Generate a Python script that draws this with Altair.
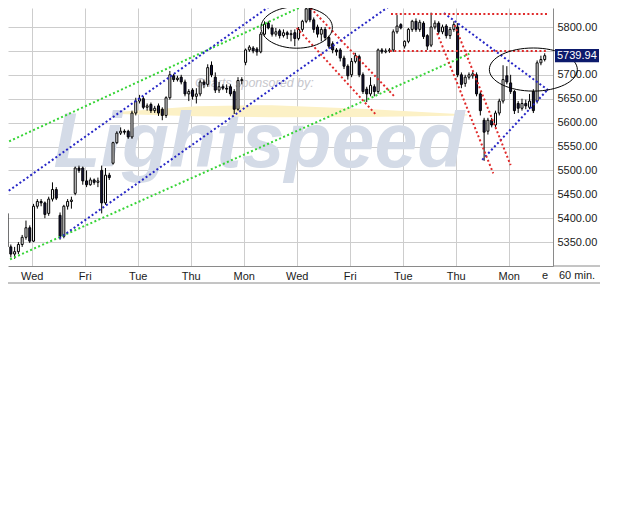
import altair as alt
import pandas as pd

FONT = "Liberation Sans"

# ---- 60-minute candles (bar index order) ----
opens = [5410,5340,5325,5330,5345,5360,5380,5352,5425,5435,
         5432,5410,5440,5460,5406,5362,5425,5435,5452,5505,
         5505,5478,5470,5480,5475,5500,5432,5490,5515,5558,
         5578,5582,5582,5570,5620,5645,5650,5632,5638,5625,
         5635,5628,5615,5652,5698,5690,5695,5685,5660,5668,
         5655,5660,5685,5680,5720,5695,5668,5675,5672,5675,
         5665,5628,5688,5726,5752,5756,5754,5748,5785,5808,
         5798,5785,5792,5782,5788,5784,5788,5776,5795,5812,
         5838,5815,5800,5785,5795,5778,5765,5752,5752,5735,
         5718,5700,5728,5738,5700,5670,5660,5675,5665,5752,
         5748,5750,5752,5790,5805,5760,5770,5795,5812,5795,
         5808,5782,5762,5800,5808,5790,5802,5782,5795,5800,
         5700,5682,5695,5698,5700,5660,5605,5582,5605,5595,
         5620,5645,5698,5683,5665,5640,5630,5640,5632,5665,
         5645,5725,5732]
highs = [5420,5345,5340,5350,5365,5395,5385,5430,5440,5440,
         5435,5445,5475,5465,5412,5428,5440,5445,5508,5510,
         5508,5500,5485,5483,5485,5510,5505,5495,5560,5582,
         5590,5586,5585,5625,5652,5658,5655,5640,5642,5635,
         5640,5632,5655,5708,5702,5698,5700,5690,5670,5672,
         5672,5690,5690,5722,5728,5705,5685,5680,5680,5680,
         5670,5695,5695,5755,5762,5760,5758,5790,5812,5812,
         5805,5798,5796,5795,5792,5794,5795,5800,5815,5845,
         5848,5820,5805,5800,5800,5782,5770,5756,5756,5740,
         5722,5735,5746,5742,5705,5675,5695,5680,5755,5756,
         5755,5756,5795,5825,5808,5772,5798,5815,5818,5815,
         5812,5785,5830,5814,5812,5805,5806,5800,5812,5808,
         5705,5700,5705,5708,5705,5665,5610,5610,5610,5625,
         5650,5720,5718,5700,5668,5645,5650,5648,5660,5670,
         5730,5740,5745]
lows = [5330,5318,5315,5325,5340,5355,5348,5350,5420,5425,
        5400,5405,5435,5438,5355,5358,5418,5420,5448,5495,
        5470,5465,5468,5470,5465,5410,5428,5480,5512,5555,
        5574,5575,5566,5566,5615,5640,5628,5625,5620,5620,
        5614,5605,5610,5648,5685,5686,5680,5655,5645,5648,
        5640,5655,5672,5675,5695,5662,5662,5668,5662,5655,
        5618,5625,5680,5720,5748,5745,5740,5745,5782,5795,
        5780,5780,5776,5778,5775,5770,5760,5772,5790,5808,
        5810,5788,5778,5770,5772,5755,5745,5740,5728,5712,
        5690,5695,5724,5695,5660,5643,5655,5655,5660,5744,
        5745,5746,5748,5786,5795,5755,5766,5790,5790,5790,
        5775,5752,5758,5795,5785,5785,5776,5775,5790,5695,
        5672,5675,5690,5692,5655,5615,5520,5575,5590,5590,
        5615,5640,5680,5660,5618,5620,5625,5628,5628,5620,
        5640,5720,5728]
closes = [5340,5325,5330,5345,5360,5380,5352,5425,5435,5432,
          5408,5440,5460,5442,5362,5425,5435,5438,5505,5500,
          5478,5470,5480,5475,5478,5432,5490,5485,5558,5578,
          5582,5580,5570,5620,5645,5650,5632,5635,5625,5630,
          5620,5615,5652,5700,5690,5693,5685,5660,5665,5655,
          5660,5685,5680,5715,5700,5668,5675,5672,5670,5660,
          5628,5688,5690,5752,5758,5750,5748,5785,5806,5798,
          5785,5790,5782,5788,5784,5786,5776,5795,5812,5838,
          5815,5795,5785,5795,5778,5760,5752,5748,5735,5718,
          5698,5728,5740,5700,5665,5660,5678,5665,5752,5748,
          5750,5752,5790,5802,5798,5770,5795,5812,5795,5810,
          5780,5760,5800,5808,5790,5800,5782,5795,5805,5700,
          5680,5695,5700,5702,5660,5625,5580,5605,5595,5620,
          5645,5690,5685,5665,5625,5630,5640,5635,5645,5625,
          5725,5732,5740]

# ---- axes ----
day_tick_idx = [6.5, 20.5, 34.5, 48.5, 62.5, 76.5, 90.5, 104.5, 118.5, 132.5]
day_tick_lbl = ["Wed", "Fri", "Tue", "Thu", "Mon", "Wed", "Fri", "Tue", "Thu", "Mon"]
price_ticks = [5350, 5400, 5450, 5500, 5550, 5600, 5650, 5700, 5750, 5800]
hidden_label = 5750          # covered by the last-price box in the original
last_price = [5739.94]

# ---- drawn trend lines (bar index, price) ----
line_names = ["G1", "G2", "B1", "B2", "B3", "B4", "R1", "R2", "R3", "R4", "R5", "R6"]
line_x1 = [-0.5, 0.8, -0.5, 13.8, 115.4, 125.5, 101.4, 101.1, 79.4, 76.5, 113.6, 118.2]
line_p1 = [5557, 5314, 5452, 5358, 5829, 5522, 5827, 5750, 5846, 5798, 5787, 5804]
line_x2 = [81.5, 122.1, 71.6, 103.2, 142.9, 142.9, 142.9, 142.9, 102.4, 97.5, 128.4, 133.0]
line_p2 = [5856, 5744, 5856, 5856, 5668, 5670, 5827, 5750, 5654, 5616, 5494, 5511]
line_cols = ["#36d436", "#36d436", "#2626c6", "#2626c6", "#2626c6", "#2626c6",
             "#e02a2a", "#e02a2a", "#e02a2a", "#e02a2a", "#e02a2a", "#e02a2a"]

# ---- ellipses (center bar index, price) ----
ell1_x, ell1_p = [76.5], [5799]
ell2_x, ell2_p = [139.0], [5711]

# ---- watermark ----
wm_x, wm_p = [12.3], [5507]
sp_x, sp_p = [81.0], [5674]
sw_x = [29.0, 50.0, 70.0, 95.0, 121.5]
sw_p = [5620, 5624, 5624, 5620, 5616]
sw_w = [2, 10, 12, 8, 1]

bars = pd.DataFrame({"i": list(range(len(closes))), "open": opens, "high": highs,
                     "low": lows, "close": closes})
bars["fill"] = ["#ffffff" if c >= o else "#16163e" for o, c in zip(opens, closes)]

lines = pd.DataFrame({"name": line_names, "x1": line_x1, "p1": line_p1,
                      "x2": line_x2, "p2": line_p2, "col": line_cols})

label_expr = "".join(f"datum.value == {v} ? '{t}' : " for v, t in zip(day_tick_idx, day_tick_lbl)) + "''"
ylabel_expr = f"datum.value == {hidden_label} ? '' : format(datum.value, '.2f')"

PW, PH = 545, 258
xscale = alt.Scale(domain=[1.574, 142.87], nice=False, zero=False)
yscale = alt.Scale(domain=[5300, 5839.76], nice=False, zero=False)
xaxis = alt.Axis(values=day_tick_idx, labelExpr=label_expr, grid=True, gridColor="#cdcdcd",
                 domainColor="#8a8a8a", ticks=False, tickSize=0, labelPadding=4,
                 labelFont=FONT, labelFontSize=11, labelColor="#1a1a1a", title=None,
                 labelAngle=0, labelFlush=False)
yaxis = alt.Axis(orient="right", values=price_ticks, labelExpr=ylabel_expr, grid=True,
                 gridColor="#cdcdcd", domainColor="#8a8a8a", ticks=False, tickSize=0,
                 labelPadding=4, labelFont=FONT, labelFontSize=11, labelColor="#1a1a1a",
                 title=None, labelFlush=False)


def X(f):
    return alt.X(f, type="quantitative", scale=xscale, axis=xaxis)


def Y(f):
    return alt.Y(f, type="quantitative", scale=yscale, axis=yaxis)


swoosh = alt.Chart(pd.DataFrame({"x": sw_x, "p": sw_p, "w": sw_w})).mark_trail(
    color="#fcf1c6").encode(x=X("x"), y=Y("p"), size=alt.Size("w:Q", scale=None))

watermark = alt.Chart(pd.DataFrame({"x": wm_x, "p": wm_p})).mark_text(
    text="Lightspeed", font=FONT, fontSize=77, fontWeight="bold", fontStyle="italic",
    color="#d4dbe7", align="left", baseline="alphabetic").encode(x=X("x"), y=Y("p"))

sponsor = alt.Chart(pd.DataFrame({"x": sp_x, "p": sp_p})).mark_text(
    text="Charts sponsored by:", font=FONT, fontSize=12.5, fontStyle="italic",
    color="#c6c6cc", align="right", baseline="alphabetic").encode(x=X("x"), y=Y("p"))

wicks = alt.Chart(bars).mark_rule(color="#000000", strokeWidth=1).encode(
    x=X("i"), y=Y("low"), y2="high")

bodies = alt.Chart(bars).mark_bar(size=2, stroke="#000000", strokeWidth=1).encode(
    x=X("i"), y=Y("open"), y2="close", fill=alt.Fill("fill:N", scale=None))

trend = alt.Chart(lines).mark_rule(strokeDash=[2, 2.4], strokeWidth=2).encode(
    x=X("x1"), x2="x2", y=Y("p1"), y2="p2", color=alt.Color("col:N", scale=None))

ellipse1 = alt.Chart(pd.DataFrame({"x": ell1_x, "p": ell1_p})).mark_point(
    shape="M-1,0A1,0.58 0 1,0 1,0A1,0.58 0 1,0 -1,0Z", size=5100, filled=False,
    stroke="#000000", strokeWidth=1, opacity=1).encode(x=X("x"), y=Y("p"))

ellipse2 = alt.Chart(pd.DataFrame({"x": ell2_x, "p": ell2_p})).mark_point(
    shape="M-1,0A1,0.49 0 1,0 1,0A1,0.49 0 1,0 -1,0Z", size=7744, filled=False,
    stroke="#000000", strokeWidth=1, opacity=1).encode(x=X("x"), y=Y("p"))

price_df = pd.DataFrame({"p": last_price})
price_box = alt.Chart(price_df).mark_point(
    shape="M-1,-0.3L1,-0.3L1,0.3L-1,0.3Z", size=1936, filled=True, color="#0c1a6c",
    opacity=1).encode(x=alt.value(PW + 24), y=Y("p"))
price_txt = alt.Chart(price_df).mark_text(
    font=FONT, fontSize=11, color="#ffffff", align="left", baseline="middle").encode(
    x=alt.value(PW + 4), y=Y("p"), text=alt.Text("p:Q", format=".2f"))

frame = alt.Chart(pd.DataFrame({"a": [0]})).mark_rule(color="#8a8a8a", strokeWidth=1)
frame1 = frame.encode(x=alt.value(PW), x2=alt.value(PW + 47), y=alt.value(PH))
frame2 = frame.encode(x=alt.value(0), x2=alt.value(PW + 47), y=alt.value(PH + 17))

extra_txt = alt.Chart(pd.DataFrame({"a": [0]})).mark_text(
    font=FONT, fontSize=11, color="#1a1a1a", align="left", baseline="top")
t60 = extra_txt.encode(x=alt.value(PW + 6), y=alt.value(PH + 4), text=alt.value("60 min."))
te = extra_txt.encode(x=alt.value(PW - 11), y=alt.value(PH + 4), text=alt.value("e"))

chart = alt.layer(
    swoosh, watermark, sponsor, wicks, bodies, trend, ellipse1, ellipse2,
    price_box, price_txt, frame1, frame2, t60, te
).properties(
    width=PW, height=PH,
    autosize=alt.AutoSizeParams(type="none"),
    padding={"left": 0, "top": 0, "right": 52, "bottom": 30},
    background="#ffffff",
).configure_view(stroke="transparent", strokeWidth=0)

chart.save("out.html", embed_options={"renderer": "svg", "actions": False})
